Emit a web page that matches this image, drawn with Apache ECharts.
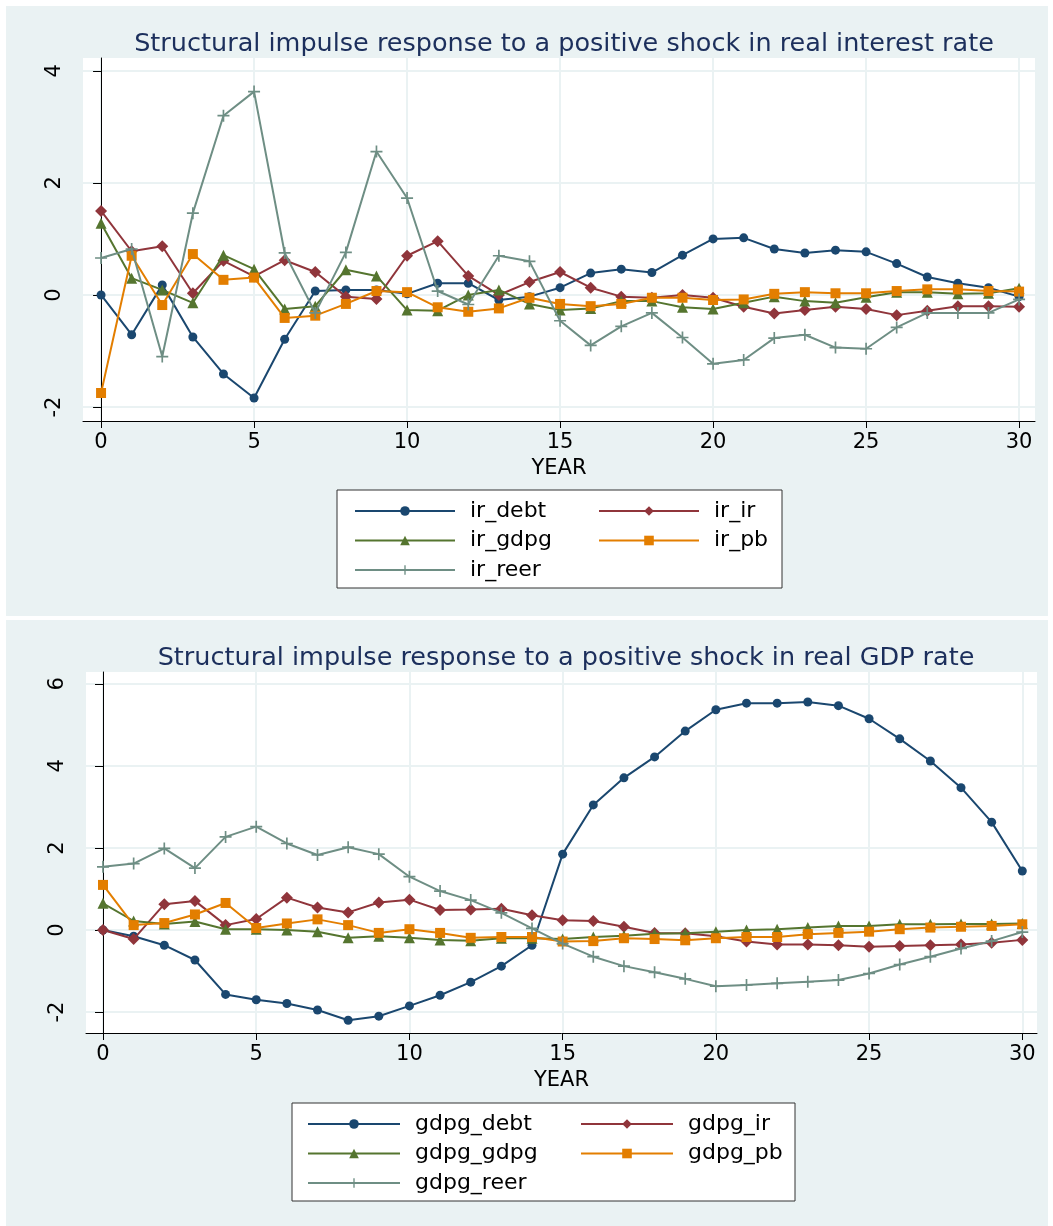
<!DOCTYPE html>
<html>
<head>
<meta charset="utf-8">
<script src="https://cdn.jsdelivr.net/npm/echarts@6/dist/echarts.min.js"></script>
<style>html,body{margin:0;padding:0;background:#fff;}#c{width:1053px;height:1226px;}</style>
</head>
<body>
<div id="c"></div>
<script>
const years = Array.from({length: 31}, (_, i) => i);
const xTicks = [0, 5, 10, 15, 20, 25, 30];
const yTicksTop = [-2, 0, 2, 4];
const yTicksBottom = [-2, 0, 2, 4, 6];

const titleTop = 'Structural impulse response to a positive shock in real interest rate';
const titleBottom = 'Structural impulse response to a positive shock in real GDP rate';
const namesTop = ['ir_debt', 'ir_ir', 'ir_gdpg', 'ir_pb', 'ir_reer'];
const namesBottom = ['gdpg_debt', 'gdpg_ir', 'gdpg_gdpg', 'gdpg_pb', 'gdpg_reer'];

const ir_debt = [0,-0.71,0.18,-0.75,-1.41,-1.84,-0.79,0.07,0.09,0.09,0.02,0.21,0.21,-0.09,-0.03,0.13,0.39,0.46,0.40,0.71,1.00,1.02,0.82,0.75,0.80,0.77,0.56,0.32,0.21,0.13,-0.03];
const ir_ir = [1.50,0.78,0.87,0.03,0.61,0.33,0.62,0.41,-0.03,-0.07,0.70,0.96,0.34,0.00,0.23,0.41,0.13,-0.03,-0.05,0.00,-0.05,-0.21,-0.33,-0.27,-0.21,-0.25,-0.36,-0.28,-0.20,-0.20,-0.21];
const ir_gdpg = [1.28,0.30,0.09,-0.14,0.71,0.46,-0.25,-0.20,0.45,0.34,-0.27,-0.28,0.00,0.09,-0.16,-0.27,-0.24,-0.11,-0.11,-0.22,-0.25,-0.14,-0.03,-0.11,-0.14,-0.04,0.05,0.05,0.02,0.03,0.12];
const ir_pb = [-1.75,0.70,-0.18,0.73,0.27,0.31,-0.41,-0.37,-0.16,0.07,0.05,-0.22,-0.30,-0.24,-0.05,-0.16,-0.20,-0.16,-0.05,-0.05,-0.09,-0.08,0.02,0.05,0.03,0.03,0.07,0.10,0.10,0.07,0.06];
const ir_reer = [0.66,0.82,-1.10,1.46,3.20,3.63,0.75,-0.32,0.76,2.56,1.73,0.07,-0.17,0.70,0.60,-0.46,-0.90,-0.56,-0.32,-0.76,-1.23,-1.16,-0.77,-0.71,-0.94,-0.96,-0.58,-0.32,-0.32,-0.32,-0.08];

const gdpg_debt = [0,-0.15,-0.37,-0.73,-1.57,-1.70,-1.79,-1.95,-2.20,-2.10,-1.85,-1.59,-1.27,-0.88,-0.37,1.85,3.05,3.71,4.22,4.85,5.37,5.53,5.53,5.56,5.47,5.15,4.66,4.12,3.47,2.63,1.44];
const gdpg_ir = [0,-0.22,0.63,0.71,0.12,0.27,0.79,0.55,0.43,0.67,0.74,0.49,0.50,0.52,0.36,0.24,0.22,0.08,-0.07,-0.08,-0.15,-0.28,-0.35,-0.35,-0.37,-0.41,-0.39,-0.37,-0.35,-0.31,-0.24];
const gdpg_gdpg = [0.65,0.22,0.15,0.21,0.02,0.02,0.00,-0.04,-0.19,-0.15,-0.19,-0.24,-0.26,-0.20,-0.20,-0.22,-0.17,-0.14,-0.09,-0.08,-0.04,0.00,0.02,0.06,0.10,0.10,0.14,0.14,0.15,0.15,0.16];
const gdpg_pb = [1.10,0.12,0.17,0.38,0.66,0.05,0.16,0.26,0.12,-0.07,0.02,-0.07,-0.19,-0.17,-0.17,-0.28,-0.27,-0.20,-0.22,-0.25,-0.20,-0.17,-0.17,-0.10,-0.07,-0.04,0.02,0.06,0.08,0.10,0.14];
const gdpg_reer = [1.54,1.62,1.99,1.51,2.27,2.52,2.11,1.83,2.02,1.85,1.30,0.95,0.73,0.42,0.04,-0.33,-0.65,-0.88,-1.03,-1.19,-1.37,-1.34,-1.30,-1.26,-1.22,-1.06,-0.84,-0.65,-0.45,-0.27,-0.05];

const colors = ['#1a476f', '#90353b', '#55752f', '#e37e00', '#6e8e84'];
const plusPath = 'path://M4.3,0H5.7V4.3H10V5.7H5.7V10H4.3V5.7H0V4.3H4.3Z';
const symbols = ['circle', 'diamond', 'triangle', 'rect', plusPath];
const symbolSizes = [9, 12, 11, 10, 12];
const BG = '#eaf2f3';
const FONT = 'DejaVu Sans';

function mkSeries(names, datas, idx) {
  return names.map((n, i) => ({
    name: n, type: 'line', xAxisIndex: idx, yAxisIndex: idx,
    data: years.map((y, k) => [y, datas[i][k]]),
    symbol: symbols[i], symbolSize: symbolSizes[i], showSymbol: true,
    lineStyle: {color: colors[i], width: 2},
    itemStyle: {color: colors[i]},
    emphasis: {disabled: true}, animation: false, z: 2 + i
  }));
}

function xAxis(idx, min, max) {
  return {
    type: 'value', gridIndex: idx, min: min, max: max,
    name: 'YEAR', nameLocation: 'middle', nameGap: 37,
    nameTextStyle: {fontFamily: FONT, fontSize: 21, color: '#000'},
    axisLine: {show: true, onZero: false, lineStyle: {color: '#000', width: 1}},
    axisTick: {show: true, customValues: xTicks, length: 7, lineStyle: {color: '#000'}},
    axisLabel: {customValues: xTicks, fontFamily: FONT, fontSize: 21, color: '#000', margin: 11},
    splitLine: {show: true, lineStyle: {color: BG, width: 2}}
  };
}
function yAxis(idx, min, max, ticks) {
  return {
    type: 'value', gridIndex: idx, min: min, max: max,
    axisLine: {show: true, lineStyle: {color: '#000', width: 1}},
    axisTick: {show: true, customValues: ticks, length: 8, lineStyle: {color: '#000'}},
    axisLabel: {customValues: ticks, rotate: 90, fontFamily: FONT, fontSize: 21, color: '#000', margin: 18},
    splitLine: {show: true, lineStyle: {color: BG, width: 2}}
  };
}

function legendCol(names, left, top, w) {
  return {
    orient: 'vertical', left: left, top: top, data: names,
    itemWidth: w, itemHeight: 12, itemGap: 7.5,
    textStyle: {fontFamily: FONT, fontSize: 22, color: '#000', padding: [0, 0, 0, 10]},
    selectedMode: false
  };
}

const chart = echarts.init(document.getElementById('c'), null, {renderer: 'canvas'});
chart.setOption({
  animation: false,
  backgroundColor: '#fff',
  graphic: [
    {type: 'rect', shape: {x: 6, y: 6, width: 1042, height: 610}, style: {fill: BG}, z: -10, silent: true},
    {type: 'rect', shape: {x: 6, y: 620, width: 1042, height: 606}, style: {fill: BG}, z: -10, silent: true},
    {type: 'rect', shape: {x: 337, y: 490, width: 445, height: 98}, style: {fill: '#fff', stroke: '#333', lineWidth: 1}, z: -5, silent: true},
    {type: 'rect', shape: {x: 292, y: 1103, width: 503, height: 98}, style: {fill: '#fff', stroke: '#333', lineWidth: 1}, z: -5, silent: true}
  ],
  title: [
    {text: titleTop, left: 559, top: 26, textAlign: 'center', textStyle: {fontFamily: FONT, fontSize: 25.5, fontWeight: 'normal', color: '#1c2f5c'}},
    {text: titleBottom, left: 561, top: 640, textAlign: 'center', textStyle: {fontFamily: FONT, fontSize: 25.5, fontWeight: 'normal', color: '#1c2f5c'}}
  ],
  grid: [
    {left: 83, top: 58, width: 952, height: 363, show: true, backgroundColor: '#fff', borderWidth: 0},
    {left: 86, top: 672, width: 951, height: 361, show: true, backgroundColor: '#fff', borderWidth: 0}
  ],
  xAxis: [xAxis(0, -0.59, 30.52), xAxis(1, -0.555, 30.48)],
  yAxis: [yAxis(0, -2.25, 4.23, yTicksTop), yAxis(1, -2.51, 6.29, yTicksBottom)],
  legend: [
    legendCol([namesTop[0], namesTop[2], namesTop[4]], 349, 495, 100),
    legendCol([namesTop[1], namesTop[3]], 593, 495, 100),
    legendCol([namesBottom[0], namesBottom[2], namesBottom[4]], 302, 1108, 92),
    legendCol([namesBottom[1], namesBottom[3]], 575, 1108, 92)
  ],
  series: [
    ...mkSeries(namesTop, [ir_debt, ir_ir, ir_gdpg, ir_pb, ir_reer], 0),
    ...mkSeries(namesBottom, [gdpg_debt, gdpg_ir, gdpg_gdpg, gdpg_pb, gdpg_reer], 1)
  ]
});
</script>
</body>
</html>
